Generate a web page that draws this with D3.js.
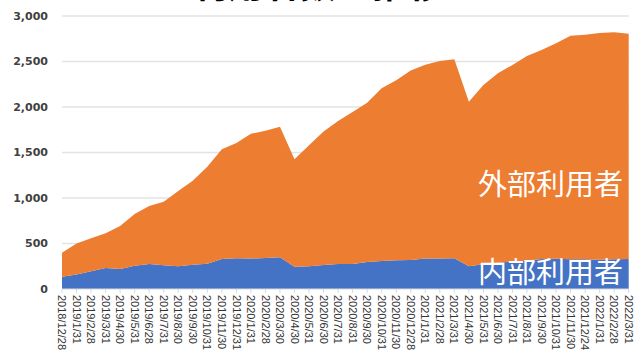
<!DOCTYPE html>
<html>
<head>
<meta charset="utf-8">
<script src="https://cdn.jsdelivr.net/npm/d3@7"></script>
<style>
  html, body { margin: 0; padding: 0; background: #fff; }
  svg { display: block; }
</style>
</head>
<body>
<svg id="chart" width="636" height="353"></svg>
<script>
// Month-end reporting dates
const dates = [
  "2018/12/28", "2019/1/31", "2019/2/28", "2019/3/31", "2019/4/30", "2019/5/31",
  "2019/6/28", "2019/7/31", "2019/8/30", "2019/9/30", "2019/10/31", "2019/11/30",
  "2019/12/31", "2020/1/31", "2020/2/28", "2020/3/30", "2020/4/30", "2020/5/31",
  "2020/6/30", "2020/7/31", "2020/8/31", "2020/9/30", "2020/10/31", "2020/11/30",
  "2020/12/28", "2021/1/31", "2021/2/28", "2021/3/31", "2021/4/30", "2021/5/31",
  "2021/6/30", "2021/7/31", "2021/8/31", "2021/9/30", "2021/10/31", "2021/11/30",
  "2021/12/24", "2022/1/31", "2022/2/28", "2022/3/31"
];

// 内部利用者 (internal users)
const internalUsers = [
  135, 160, 194, 230, 220, 256, 275, 260, 250, 267, 278, 330,
  337, 335, 340, 348, 245, 250, 264, 276, 275, 297, 308, 315,
  320, 335, 335, 337, 250, 271, 289, 300, 311, 330, 333, 326,
  326, 322, 326, 330
];

// 外部利用者 (external users)
const externalUsers = [
  264, 340, 363, 382, 472, 568, 637, 700, 827, 923, 1066, 1205,
  1268, 1370, 1400, 1434, 1182, 1330, 1468, 1569, 1670, 1751, 1897, 1978,
  2080, 2130, 2170, 2187, 1808, 1971, 2081, 2162, 2249, 2296, 2367, 2458,
  2469, 2491, 2495, 2476
];

const yTicks = [0, 500, 1000, 1500, 2000, 2500, 3000];
const seriesNames = ["内部利用者", "外部利用者"];
const title = "利用者数の推移";

const svg = d3.select("#chart");
const plotLeft = 62, plotRight = 628.7, plotTop = 16, plotBottom = 289;

const x = d3.scalePoint().domain(dates).range([plotLeft, plotRight]);
const y = d3.scaleLinear().domain([0, 3000]).range([plotBottom, plotTop]);

// Gridlines
svg.append("g")
  .selectAll("line")
  .data(yTicks.filter(d => d > 0))
  .join("line")
  .attr("x1", plotLeft).attr("x2", plotRight)
  .attr("y1", d => y(d)).attr("y2", d => y(d))
  .attr("stroke", "#e3e3e3")
  .attr("stroke-width", 1.6);

// Stacked areas
const rows = dates.map((d, i) => ({ date: d, internal: internalUsers[i], external: externalUsers[i] }));
const stack = d3.stack().keys(["internal", "external"]);
const layers = stack(rows);
const colors = { internal: "#4472C4", external: "#ED7D31" };

const area = d3.area()
  .x(d => x(d.data.date))
  .y0(d => y(d[0]))
  .y1(d => y(d[1]));

svg.append("g")
  .selectAll("path")
  .data(layers)
  .join("path")
  .attr("d", area)
  .attr("fill", d => colors[d.key]);

// Category axis
const xAxis = svg.append("g").attr("transform", `translate(0,${plotBottom})`);
xAxis.append("line")
  .attr("x1", plotLeft).attr("x2", plotRight)
  .attr("stroke", "#d9d9d9").attr("stroke-width", 1);
xAxis.selectAll("line.tick")
  .data(dates)
  .join("line")
  .attr("class", "tick")
  .attr("x1", d => x(d)).attr("x2", d => x(d))
  .attr("y1", 0).attr("y2", 4)
  .attr("stroke", "#d9d9d9");
xAxis.selectAll("text")
  .data(dates)
  .join("text")
  .attr("transform", d => `translate(${x(d)},6) rotate(90)`)
  .attr("dy", "0.35em")
  .attr("text-anchor", "start")
  .attr("font-family", "'Liberation Sans', Arial, sans-serif")
  .attr("font-size", 11)
  .attr("fill", "#333")
  .text(d => d);

// Value axis labels
svg.append("g")
  .selectAll("text")
  .data(yTicks)
  .join("text")
  .attr("x", 48)
  .attr("y", d => y(d))
  .attr("dy", "0.36em")
  .attr("text-anchor", "end")
  .attr("font-family", "'DejaVu Sans', Verdana, sans-serif")
  .attr("font-weight", "bold")
  .attr("font-size", 11)
  .attr("fill", "#404040")
  .text(d3.format(","));

// Series labels inside the areas
const labelFont = "'Noto Sans CJK JP', 'Noto Sans', sans-serif";
svg.append("text")
  .attr("x", 623).attr("y", 195)
  .attr("text-anchor", "end")
  .attr("font-family", labelFont)
  .attr("font-size", 29)
  .attr("fill", "#fff")
  .text(seriesNames[1]);
svg.append("text")
  .attr("x", 623).attr("y", 283)
  .attr("text-anchor", "end")
  .attr("font-family", labelFont)
  .attr("font-size", 29)
  .attr("fill", "#fff")
  .text(seriesNames[0]);

// Title, sitting above the top edge of the canvas
svg.append("text")
  .attr("x", 318).attr("y", -2)
  .attr("text-anchor", "middle")
  .attr("font-family", labelFont)
  .attr("font-weight", "bold")
  .attr("font-size", 36)
  .attr("fill", "#000")
  .text(title);
</script>
</body>
</html>
